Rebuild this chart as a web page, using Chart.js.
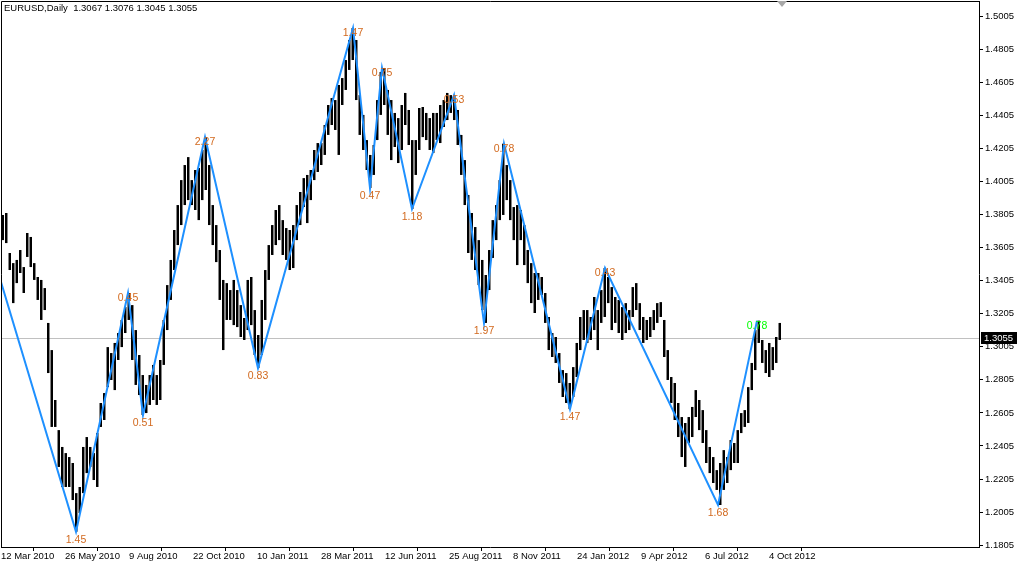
<!DOCTYPE html>
<html><head><meta charset="utf-8">
<script src="https://cdn.jsdelivr.net/npm/chart.js@4/dist/chart.umd.min.js"></script>
<style>html,body{margin:0;padding:0;background:#fff;}canvas{display:block}</style>
</head><body>
<canvas id="c" width="1019" height="565"></canvas>
<script>
// ---------- data ----------
const symbolTitle = "EURUSD,Daily  1.3067 1.3076 1.3045 1.3055";
const lastPrice = 1.3055;
const dateLabels = ["12 Mar 2010","26 May 2010","9 Aug 2010","22 Oct 2010","10 Jan 2011","28 Mar 2011","12 Jun 2011","25 Aug 2011","8 Nov 2011","24 Jan 2012","9 Apr 2012","6 Jul 2012","4 Oct 2012"];
const dateTickBars = [0,64,128,192,256,320,384,448,512,576,640,704,768];
const priceTicks = [1.1805,1.2005,1.2205,1.2405,1.2605,1.2805,1.3005,1.3205,1.3405,1.3605,1.3805,1.4005,1.4205,1.4405,1.4605,1.4805,1.5005];
// each entry groups ~3.5 daily bars (high / low of the group)
const BAR_STEP = 3.5;
const barHigh = [
1.3802,1.3814,1.3572,1.3511,1.3530,1.3590,1.3487,1.3693,1.3669,1.3511,1.3427,1.3409,1.3360,1.3149,1.2985,1.2683,1.2501,1.2399,1.2362,1.2338,
1.2302,1.2120,1.2157,1.2399,1.2459,1.2399,1.2362,1.2483,1.2665,1.2725,1.3003,1.2967,1.3028,1.3088,1.3167,1.3245,1.3330,
1.3257,1.3106,1.2955,1.2834,1.2774,1.2834,1.2895,1.2834,1.2925,1.3167,1.3378,1.3530,1.3711,1.3862,1.4013,1.4104,1.4152,1.4013,1.4074,1.4086,
1.4195,1.4273,1.4104,1.3862,1.3741,1.3590,1.3409,1.3390,1.3348,1.3409,1.3348,1.3257,1.3179,1.3409,1.3427,1.3227,1.3076,
1.3288,1.3469,1.3620,1.3741,1.3832,1.3862,1.3771,1.3723,1.3711,1.3741,1.3862,1.3941,1.4025,1.4044,1.4074,1.4195,1.4237,1.4237,1.4346,1.4467,
1.4509,1.4497,1.4588,1.4630,1.4739,1.4860,1.4933,1.4860,1.4527,1.4407,1.4255,1.4165,1.4225,1.4497,1.4667,1.4691,1.4558,1.4497,
1.4419,1.4388,1.4467,1.4540,1.4437,1.4255,1.4255,1.4449,1.4455,1.4419,1.4388,1.4419,1.4419,1.4467,1.4497,1.4540,1.4527,1.4527,1.4437,1.4286,
1.4134,1.3923,1.3814,1.3729,1.3650,1.3530,1.3439,1.3590,1.3771,1.3862,1.4013,1.4233,1.4104,1.4013,1.3850,1.3862,1.3832,
1.3741,1.3590,1.3511,1.3451,1.3451,1.3427,1.3330,1.3185,1.3088,1.3064,1.2967,1.2864,1.2846,1.2786,1.2882,1.3028,1.3185,1.3227,1.3227,1.3185,
1.3306,1.3227,1.3348,1.3481,1.3427,1.3366,1.3306,1.3288,1.3245,1.3269,1.3227,1.3366,1.3390,1.3269,1.3185,1.3167,
1.3185,1.3227,1.3269,1.3275,1.3167,1.2985,1.2822,1.2786,1.2665,1.2580,1.2544,1.2580,1.2641,1.2743,1.2683,1.2622,1.2501,1.2399,1.2338,1.2259,
1.2302,1.2380,1.2338,1.2441,1.2423,1.2501,1.2604,1.2622,1.2761,1.2907,1.3106,1.3163,1.3046,1.2985,1.3028,1.3003,1.3064,1.3149
];
const barLow = [
1.3650,1.3632,1.3469,1.3269,1.3390,1.3451,1.3330,1.3548,1.3487,1.3409,1.3288,1.3167,1.3227,1.2846,1.2520,1.2520,1.2278,1.2157,1.2157,1.2157,
1.2078,1.1886,1.1999,1.2120,1.2241,1.2278,1.2199,1.2157,1.2520,1.2562,1.2761,1.2804,1.2743,1.2925,1.3003,1.3088,1.3167,
1.2925,1.2774,1.2713,1.2592,1.2604,1.2653,1.2683,1.2653,1.2683,1.2895,1.3106,1.3288,1.3469,1.3620,1.3741,1.3862,1.3892,1.3862,1.3832,1.3771,
1.3892,1.3953,1.3741,1.3620,1.3517,1.3288,1.2985,1.3167,1.3167,1.3136,1.3124,1.3064,1.3046,1.3106,1.3136,1.2955,1.2876,
1.2955,1.3167,1.3409,1.3560,1.3620,1.3650,1.3560,1.3530,1.3469,1.3481,1.3650,1.3741,1.3850,1.3753,1.3892,1.4013,1.4062,1.4104,1.4165,1.4286,
1.4346,1.4316,1.4165,1.4467,1.4558,1.4679,1.4739,1.4497,1.4286,1.4195,1.4074,1.3965,1.4044,1.4255,1.4407,1.4467,1.4286,1.4134,
1.4213,1.4116,1.4195,1.4346,1.4225,1.3838,1.4044,1.4195,1.4273,1.4255,1.4195,1.4177,1.4255,1.4237,1.4334,1.4376,1.4419,1.4376,1.4225,1.4044,
1.3862,1.3572,1.3530,1.3469,1.3378,1.3227,1.3149,1.3348,1.3542,1.3650,1.3771,1.3802,1.3892,1.3771,1.3650,1.3499,1.3650,
1.3499,1.3390,1.3269,1.3209,1.3288,1.3318,1.3149,1.2985,1.2943,1.2907,1.2786,1.2701,1.2665,1.2628,1.2701,1.2822,1.2985,1.3046,1.3028,1.3046,
1.3106,1.2985,1.3149,1.3185,1.3269,1.3106,1.3149,1.3088,1.3046,1.3088,1.3106,1.3185,1.3227,1.3106,1.3028,1.3046,
1.3064,1.3106,1.3149,1.3185,1.2943,1.2804,1.2665,1.2562,1.2459,1.2338,1.2278,1.2423,1.2459,1.2580,1.2501,1.2423,1.2302,1.2241,1.2181,1.2139,
1.2048,1.2139,1.2181,1.2259,1.2302,1.2302,1.2483,1.2520,1.2544,1.2743,1.2864,1.3028,1.2907,1.2846,1.2822,1.2864,1.2907,1.3046
];
const zigzagBar   = [0, 75, 127, 142, 204, 257, 352, 369, 381, 411, 453, 483, 503, 569, 604, 717, 756];
const zigzagPrice = [1.3397, 1.1886, 1.3330, 1.2592, 1.4273, 1.2876, 1.4933, 1.3965, 1.4691, 1.3838, 1.4527, 1.3149, 1.4233, 1.2628, 1.3481, 1.2048, 1.3163];
const zigzagLabels = ["", "1.45", "0.45", "0.51", "2.27", "0.83", "1.47", "0.47", "0.75", "1.18", "0.53", "1.97", "0.78", "1.47", "0.43", "1.68", "0.78"];

// ---------- drawing ----------
const FONT = "'Liberation Sans', Arial, sans-serif";
const overlay = {
  id: 'overlay',
  beforeDatasetsDraw(chart) {
    const {ctx, chartArea: a, scales: {y}} = chart;
    const py = Math.round(y.getPixelForValue(lastPrice)) + 0.5;
    ctx.save();
    ctx.strokeStyle = '#C0C0C0'; ctx.lineWidth = 1;
    ctx.beginPath(); ctx.moveTo(a.left, py); ctx.lineTo(a.right, py); ctx.stroke();
    ctx.restore();
  },
  afterDatasetsDraw(chart) {
    const {ctx, scales: {x, y}} = chart;
    ctx.save();
    ctx.font = "10.5px " + FONT;
    ctx.textAlign = 'center'; ctx.textBaseline = 'middle';
    for (let i = 1; i < zigzagBar.length; i++) {
      const prev = zigzagPrice[i - 1];
      const isPeak = zigzagPrice[i] > prev;
      const px = x.getPixelForValue(zigzagBar[i]);
      const py = y.getPixelForValue(zigzagPrice[i]);
      ctx.fillStyle = (i === zigzagBar.length - 1) ? '#00FF00' : '#D2691E';
      ctx.fillText(zigzagLabels[i], px, py + (isPeak ? 5.5 : 8.5));
    }
    ctx.restore();
  },
  afterDraw(chart) {
    const {ctx, chartArea: a, scales: {x, y}} = chart;
    ctx.save();
    // frame
    ctx.strokeStyle = '#000'; ctx.lineWidth = 1;
    ctx.beginPath();
    ctx.moveTo(a.left + 0.5, a.bottom); ctx.lineTo(a.left + 0.5, a.top + 0.5); ctx.lineTo(a.right, a.top + 0.5);
    ctx.stroke();
    // header
    ctx.fillStyle = '#000'; ctx.font = "9.5px " + FONT;
    ctx.textAlign = 'left'; ctx.textBaseline = 'alphabetic';
    ctx.fillText(symbolTitle, 4, 11);
    // shift marker
    const sx = x.getPixelForValue(781);
    ctx.fillStyle = '#A8A8A8';
    ctx.beginPath(); ctx.moveTo(sx - 5, a.top); ctx.lineTo(sx + 5, a.top); ctx.lineTo(sx, a.top + 6); ctx.closePath(); ctx.fill();
    // current price box
    const py = Math.round(y.getPixelForValue(lastPrice));
    ctx.fillStyle = '#000';
    ctx.fillRect(a.right + 2, py - 6, 36, 12);
    ctx.fillStyle = '#fff'; ctx.textBaseline = 'middle';
    ctx.fillText(lastPrice.toFixed(4), a.right + 5, py + 0.5);
    ctx.restore();
  }
};

new Chart(document.getElementById('c'), {
  type: 'bar',
  data: {
    datasets: [
      {
        type: 'line', order: 1,
        data: zigzagBar.map((b, i) => ({x: b, y: zigzagPrice[i]})),
        borderColor: '#1E90FF', borderWidth: 2, pointRadius: 0, tension: 0, fill: false
      },
      {
        type: 'bar', order: 2,
        data: barHigh.map((h, i) => ({x: (i + 0.5) * BAR_STEP, y: [barLow[i], h]})),
        backgroundColor: '#000', borderWidth: 0, barPercentage: 1, categoryPercentage: 0.7
      }
    ]
  },
  options: {
    responsive: false, animation: false, devicePixelRatio: 1,
    layout: {padding: {left: 1, top: 1, right: 0, bottom: 0}},
    plugins: {legend: {display: false}, tooltip: {enabled: false}},
    scales: {
      x: {
        type: 'linear', min: 0, max: 978, offset: false,
        afterBuildTicks: s => { s.ticks = dateTickBars.map(v => ({value: v})); },
        afterFit: s => { s.height = 18; s.paddingLeft = 0; s.paddingRight = 0; },
        ticks: {callback: (v, i) => dateLabels[i], align: 'start', maxRotation: 0, autoSkip: false,
                color: '#000', font: {family: FONT, size: 9.5}, padding: 0},
        grid: {drawOnChartArea: false, drawTicks: true, tickLength: 4, color: '#000'},
        border: {display: true, color: '#000'}
      },
      y: {
        type: 'linear', position: 'right', min: 1.1794, max: 1.5096,
        afterBuildTicks: s => { s.ticks = priceTicks.map(v => ({value: v})); },
        afterFit: s => { s.width = 40; s.paddingTop = 0; s.paddingBottom = 0; },
        ticks: {callback: v => Number(v).toFixed(4), color: '#000', font: {family: FONT, size: 9.5}, padding: 2},
        grid: {drawOnChartArea: false, drawTicks: true, tickLength: 4, color: '#000'},
        border: {display: true, color: '#000'}
      }
    }
  },
  plugins: [overlay]
});
</script>
</body></html>
